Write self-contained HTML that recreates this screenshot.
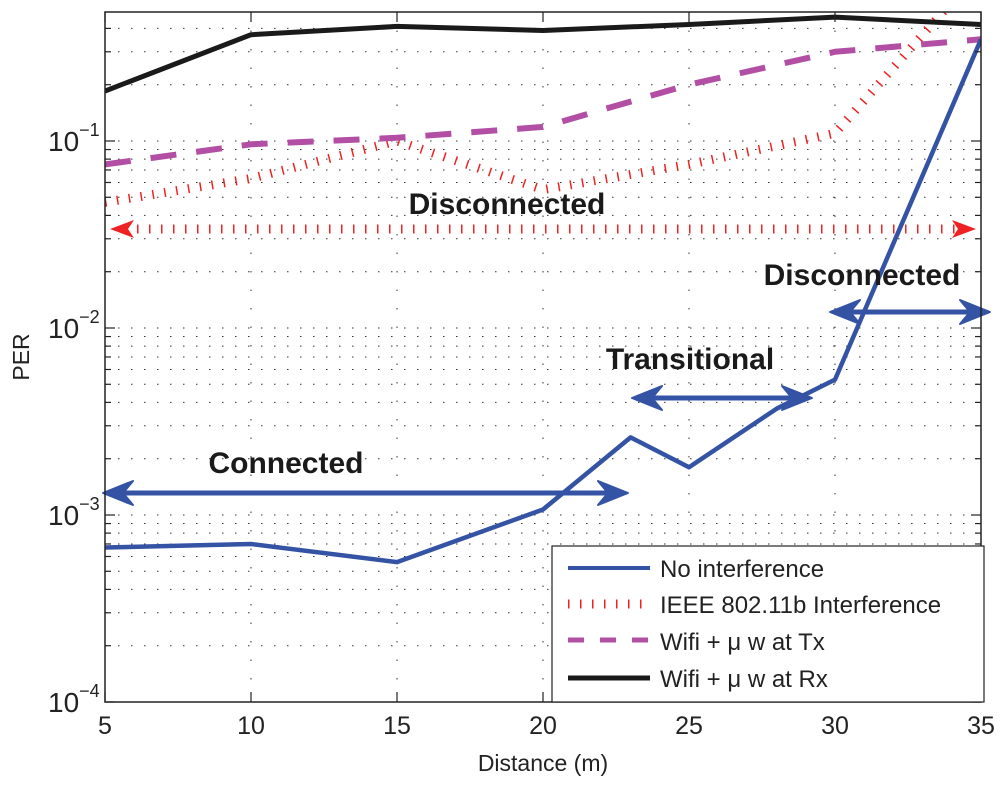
<!DOCTYPE html>
<html><head><meta charset="utf-8"><style>
body{margin:0;background:#fff;width:1000px;height:783px;overflow:hidden}
svg{font-family:"Liberation Sans",sans-serif}
</style></head><body>
<svg id="chart" width="1000" height="783" viewBox="0 0 1000 783" xmlns="http://www.w3.org/2000/svg">
<defs>
<clipPath id="clip"><rect x="105" y="12" width="876" height="690"/></clipPath>
</defs>
<g id="grid"></g>
<g id="series" clip-path="url(#clip)"></g>
<g id="annot"></g>
<rect x="105" y="12" width="876" height="690" fill="none" stroke="#222" stroke-width="1.5"/>
<g id="axes"></g>
<text x="543" y="771" font-size="23" text-anchor="middle" fill="#222">Distance (m)</text>
<text transform="translate(29,357) rotate(-90)" font-size="23" text-anchor="middle" fill="#222">PER</text>
<g id="legend">
<rect x="552" y="546" width="432" height="156" fill="#fff" stroke="#222" stroke-width="1.2"/>
<line x1="568" y1="568" x2="650" y2="568" stroke="#3553a4" stroke-width="4"/>
<text x="660" y="577" font-size="24" fill="#222">No interference</text>
<line x1="568" y1="604" x2="650" y2="604" stroke="#ee2222" stroke-width="9" stroke-dasharray="1.5 10.5"/>
<text x="660" y="613" font-size="24" fill="#222">IEEE 802.11b Interference</text>
<line x1="568" y1="640" x2="650" y2="640" stroke="#b24fa4" stroke-width="5" stroke-dasharray="16 16"/>
<text x="660" y="650" font-size="24" fill="#222">Wifi + μ w at Tx</text>
<line x1="568" y1="678" x2="650" y2="678" stroke="#1a1a1a" stroke-width="5"/>
<text x="660" y="687" font-size="24" fill="#222">Wifi + μ w at Rx</text>
</g>
</svg>
<script>
const xNoInt=[5,10,15,20,23,25,28,30,35];
const yNoInt=[6.7e-4,7.0e-4,5.6e-4,1.07e-3,2.6e-3,1.8e-3,3.7e-3,5.3e-3,0.35];
const xIeee=[5,10,15,20,25,30,35];
const yIeee=[0.047,0.063,0.1,0.055,0.075,0.11,0.83];
const xTx=[5,10,15,20,25,30,35];
const yTx=[0.075,0.096,0.104,0.119,0.2,0.3,0.35];
const xRx=[5,10,15,20,25,30,35];
const yRx=[0.185,0.37,0.41,0.39,0.42,0.46,0.42];
const xTicks=[5,10,15,20,25,30,35];
const yTickExps=[-4,-3,-2,-1];
const NS="http://www.w3.org/2000/svg";
const X0=105,X1=981,Y0=702,DEC=187;
function sx(v){return X0+(v-5)/30*(X1-X0);}
function sy(v){return Y0-(Math.log10(v)+4)*DEC;}
function mk(tag,attrs,parent){const e=document.createElementNS(NS,tag);for(const k in attrs)e.setAttribute(k,attrs[k]);parent.appendChild(e);return e;}
const grid=document.getElementById('grid'),series=document.getElementById('series'),axes=document.getElementById('axes'),annot=document.getElementById('annot');
for(let v=10;v<35;v+=5){const l=mk('line',{x1:sx(v),x2:sx(v),y1:12,y2:Y0,stroke:'#333','stroke-width':1,'stroke-dasharray':'1.5 17'},grid);

}
for(let e=-4;e<0;e++){for(let m=1;m<=9;m++){const v=m*Math.pow(10,e);const y=sy(v);if(y<12)continue;
if(m>1||e>-4){const l=mk('line',{x1:X0,x2:X1,y1:y,y2:y,stroke:'#333','stroke-width':1,'stroke-dasharray':'1.5 11.5'},grid);

}
const t1=mk('line',{x1:X0,x2:X0+(m===1?10:6),y1:y,y2:y,stroke:'#222','stroke-width':1.2},axes);


const t2=mk('line',{x1:X1,x2:X1-(m===1?10:6),y1:y,y2:y,stroke:'#222','stroke-width':1.2},axes);

}}
xTicks.forEach(v=>{const x=sx(v);
const a=mk('line',{x1:x,x2:x,y1:Y0,y2:Y0-10,stroke:'#222','stroke-width':1.2},axes);


const b=mk('line',{x1:x,x2:x,y1:12,y2:22,stroke:'#222','stroke-width':1.2},axes);


const t=mk('text',{x:x,y:734,'font-size':25,'text-anchor':'middle',fill:'#222'},axes);t.textContent=v;

});
yTickExps.forEach(e=>{const y=sy(Math.pow(10,e));
const t=mk('text',{x:48,y:y+10,'font-size':28,'text-anchor':'start',fill:'#222'},axes);
t.textContent='10';
const s=mk('tspan',{dy:-15,'font-size':18},t);s.textContent='\u2212'+(-e);

});
function path(xs,ys,attrs,name){const d=xs.map((v,i)=>(i?'L':'M')+sx(v).toFixed(1)+','+sy(ys[i]).toFixed(1)).join(' ');
const p=mk('path',Object.assign({d:d,fill:'none','stroke-linejoin':'round'},attrs),series);

}
path(xIeee,yIeee,{stroke:'#ee2222','stroke-width':9,'stroke-dasharray':'1.5 10.5'},'series-ieee');
path(xTx,yTx,{stroke:'#b24fa4','stroke-width':6,'stroke-dasharray':'26 20'},'series-wifi-tx');
path(xRx,yRx,{stroke:'#1a1a1a','stroke-width':5},'series-wifi-rx');
path(xNoInt,yNoInt,{stroke:'#3553a4','stroke-width':4.5},'series-no-interference');
function arrow(x1,x2,y,color,w,name){const g=mk('g',{},annot);


mk('line',{x1:x1+14,x2:x2-14,y1:y,y2:y,stroke:color,'stroke-width':w},g);
mk('path',{d:`M${x1},${y} L${x1+30},${y-12} L${x1+20},${y} L${x1+30},${y+12} Z`,fill:color,stroke:color,'stroke-width':2,'stroke-linejoin':'round'},g);
mk('path',{d:`M${x2},${y} L${x2-30},${y-12} L${x2-20},${y} L${x2-30},${y+12} Z`,fill:color,stroke:color,'stroke-width':2,'stroke-linejoin':'round'},g);}
const red=mk('line',{x1:125,x2:962,y1:229,y2:229,stroke:'#ee2222','stroke-width':9,'stroke-dasharray':'1.5 10.5'},annot);


const rh1=mk('path',{d:'M110,229 L134,220 L128,229 L134,238 Z',fill:'#ee2222'},annot);


const rh2=mk('path',{d:'M976,229 L952,220 L958,229 L952,238 Z',fill:'#ee2222'},annot);


arrow(103,628,493,'#3553a4',5,'connected-arrow');
arrow(632,812,398,'#3553a4',5,'transitional-arrow');
arrow(830,990,312,'#3553a4',5,'disconnected-arrow');
function label(txt,x,y,name){const t=mk('text',{x:x,y:y,'font-size':30,'font-weight':'bold','text-anchor':'middle',fill:'#1a1a1a'},annot);t.textContent=txt;

}
label('Disconnected',507,214,'disconnected-label-top');
label('Transitional',690,369,'transitional-label');
label('Connected',286,473,'connected-label');
label('Disconnected',862,285,'disconnected-label-right');
</script>
</body></html>
